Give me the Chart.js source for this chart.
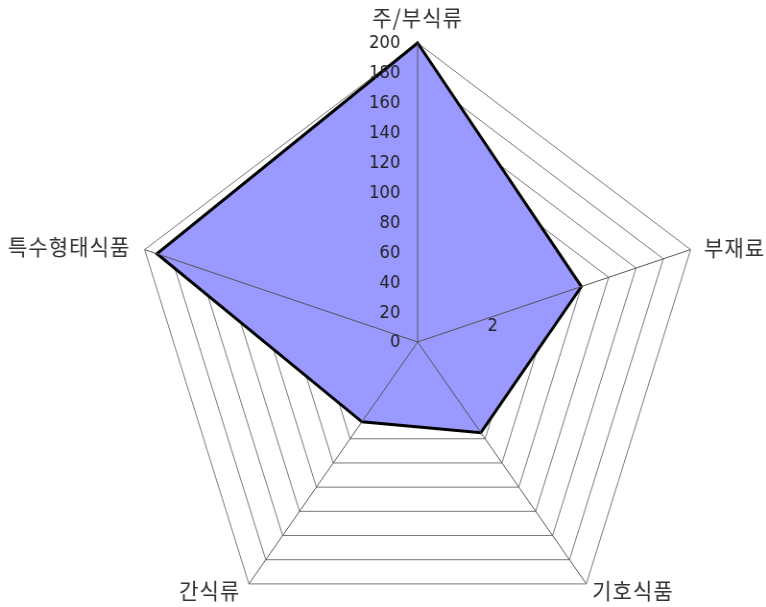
<!DOCTYPE html>
<html>
<head>
<meta charset="utf-8">
<script src="https://cdn.jsdelivr.net/npm/chart.js@4.4.0/dist/chart.umd.min.js"></script>
<style>
  html, body { margin: 0; padding: 0; background: #fff; overflow: hidden; width: 766px; height: 607px; }
  #wrap { width: 798px; height: 641px; transform: scaleX(0.96); transform-origin: 0 0; }
</style>
</head>
<body>
<div id="wrap"><canvas id="radar" width="798" height="641"></canvas></div>
<script>
const categories = ["주/부식류", "부재료", "기호식품", "간식류", "특수형태식품"]
const values = [200, 120, 75, 66, 191]
const tickValues = [0, 20, 40, 60, 80, 100, 120, 140, 160, 180, 200]
const strayLabel = "2"

// label placement next to each outer vertex: [dx, dy, align]
const labelPlace = [
    [0, -25, "center"],
    [14, -2, "left"],
    [6, 7, "left"],
    [-9, 7, "right"],
    [-15, -3, "right"]
]

const overlay = {
    id: "overlay",
    afterDatasetsDraw(chart) {
        const r = chart.scales.r
        const ctx = chart.ctx
        ctx.save()
        // spokes sit on top of the fill
        ctx.strokeStyle = "#555"
        ctx.lineWidth = 1
        categories.forEach((c, i) => {
            const p = r.getPointPositionForValue(i, r.max)
            ctx.beginPath()
            ctx.moveTo(r.xCenter, r.yCenter)
            ctx.lineTo(p.x, p.y)
            ctx.stroke()
        })
        // tick labels, left of the vertical spoke
        ctx.fillStyle = "#222"
        ctx.font = "17px 'DejaVu Sans'"
        ctx.textAlign = "right"
        ctx.textBaseline = "middle"
        tickValues.forEach(v => {
            ctx.fillText(String(v), r.xCenter - 18, r.yCenter - r.getDistanceFromCenterForValue(v) + 1)
        })
        // the stray "2" on the second spoke
        const s = r.getPointPositionForValue(1, 55)
        ctx.textAlign = "center"
        ctx.fillText(strayLabel, s.x, s.y + 10)
        // category labels
        ctx.fillStyle = "#333"
        ctx.font = "22px 'Noto Sans CJK KR'"
        ctx.letterSpacing = "1px"
        categories.forEach((c, i) => {
            const p = r.getPointPositionForValue(i, r.max)
            const [dx, dy, align] = labelPlace[i]
            ctx.textAlign = align
            ctx.fillText(c, p.x + dx, p.y + dy)
        })
        ctx.restore()
    }
}

new Chart(document.getElementById("radar"), {
    type: "radar",
    data: {
        labels: categories,
        datasets: [{
            data: values,
            backgroundColor: "#9999ff",
            borderColor: "#000",
            borderWidth: 3,
            pointRadius: 0,
            fill: true
        }]
    },
    options: {
        responsive: false,
        animation: false,
        layout: {
            padding: { top: 43, bottom: 0, left: 136, right: 64 }
        },
        plugins: {
            legend: { display: false },
            tooltip: { enabled: false }
        },
        scales: {
            r: {
                min: 0,
                max: 200,
                ticks: { stepSize: 20, display: false },
                grid: { color: "#777", lineWidth: 1 },
                angleLines: { display: false },
                pointLabels: { display: false }
            }
        }
    },
    plugins: [overlay]
})
</script>
</body>
</html>
